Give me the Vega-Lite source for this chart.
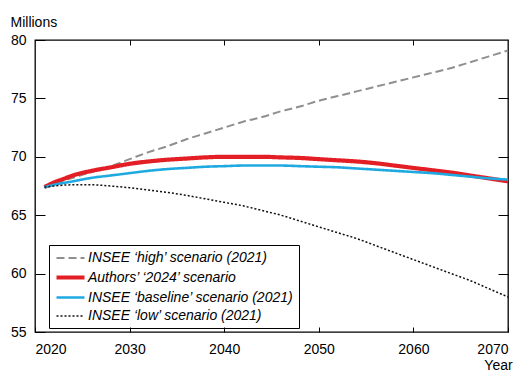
{
  "$schema": "https://vega.github.io/schema/vega-lite/v6.json",
  "width": 473,
  "height": 292,
  "autosize": {"type": "none"},
  "padding": {"left": 35, "top": 40, "right": 14, "bottom": 40},
  "background": "white",
  "config": {
    "view": {"stroke": "#000", "strokeWidth": 1.3},
    "font": "Liberation Sans",
    "axis": {"domain": false, "grid": false, "tickColor": "#000", "labelColor": "#000", "titleColor": "#000", "labelFont": "Liberation Sans", "titleFont": "Liberation Sans", "titleFontWeight": "normal"}
  },
  "data": {
    "values": [
      {"series": "high", "year": 2021, "value": 67.4},
      {"series": "high", "year": 2022, "value": 67.7},
      {"series": "high", "year": 2024, "value": 68.2},
      {"series": "high", "year": 2026, "value": 68.7},
      {"series": "high", "year": 2028, "value": 69.2},
      {"series": "high", "year": 2030, "value": 69.8},
      {"series": "high", "year": 2032, "value": 70.4},
      {"series": "high", "year": 2034, "value": 70.9},
      {"series": "high", "year": 2036, "value": 71.5},
      {"series": "high", "year": 2038, "value": 72.0},
      {"series": "high", "year": 2040, "value": 72.5},
      {"series": "high", "year": 2042, "value": 73.0},
      {"series": "high", "year": 2044, "value": 73.4},
      {"series": "high", "year": 2046, "value": 73.9},
      {"series": "high", "year": 2048, "value": 74.3},
      {"series": "high", "year": 2050, "value": 74.8},
      {"series": "high", "year": 2052, "value": 75.2},
      {"series": "high", "year": 2054, "value": 75.6},
      {"series": "high", "year": 2056, "value": 76.0},
      {"series": "high", "year": 2058, "value": 76.4},
      {"series": "high", "year": 2060, "value": 76.8},
      {"series": "high", "year": 2062, "value": 77.2},
      {"series": "high", "year": 2064, "value": 77.6},
      {"series": "high", "year": 2066, "value": 78.1},
      {"series": "high", "year": 2068, "value": 78.6},
      {"series": "high", "year": 2070, "value": 79.1},
      {"series": "authors", "year": 2021, "value": 67.4},
      {"series": "authors", "year": 2022, "value": 67.8},
      {"series": "authors", "year": 2023, "value": 68.1},
      {"series": "authors", "year": 2024, "value": 68.4},
      {"series": "authors", "year": 2026, "value": 68.8},
      {"series": "authors", "year": 2028, "value": 69.1},
      {"series": "authors", "year": 2030, "value": 69.4},
      {"series": "authors", "year": 2032, "value": 69.6},
      {"series": "authors", "year": 2034, "value": 69.75},
      {"series": "authors", "year": 2036, "value": 69.85},
      {"series": "authors", "year": 2038, "value": 69.95},
      {"series": "authors", "year": 2040, "value": 70.0},
      {"series": "authors", "year": 2042, "value": 70.0},
      {"series": "authors", "year": 2044, "value": 70.0},
      {"series": "authors", "year": 2046, "value": 69.95},
      {"series": "authors", "year": 2048, "value": 69.9},
      {"series": "authors", "year": 2050, "value": 69.8},
      {"series": "authors", "year": 2052, "value": 69.7},
      {"series": "authors", "year": 2054, "value": 69.6},
      {"series": "authors", "year": 2056, "value": 69.45},
      {"series": "authors", "year": 2058, "value": 69.25},
      {"series": "authors", "year": 2060, "value": 69.05},
      {"series": "authors", "year": 2062, "value": 68.85},
      {"series": "authors", "year": 2064, "value": 68.65},
      {"series": "authors", "year": 2066, "value": 68.4},
      {"series": "authors", "year": 2068, "value": 68.15},
      {"series": "authors", "year": 2070, "value": 67.9},
      {"series": "baseline", "year": 2021, "value": 67.4},
      {"series": "baseline", "year": 2022, "value": 67.6},
      {"series": "baseline", "year": 2024, "value": 67.9},
      {"series": "baseline", "year": 2026, "value": 68.2},
      {"series": "baseline", "year": 2028, "value": 68.4},
      {"series": "baseline", "year": 2030, "value": 68.6},
      {"series": "baseline", "year": 2032, "value": 68.8},
      {"series": "baseline", "year": 2034, "value": 68.95},
      {"series": "baseline", "year": 2036, "value": 69.05},
      {"series": "baseline", "year": 2038, "value": 69.15},
      {"series": "baseline", "year": 2040, "value": 69.2},
      {"series": "baseline", "year": 2042, "value": 69.25},
      {"series": "baseline", "year": 2044, "value": 69.25},
      {"series": "baseline", "year": 2046, "value": 69.25},
      {"series": "baseline", "year": 2048, "value": 69.2},
      {"series": "baseline", "year": 2050, "value": 69.15},
      {"series": "baseline", "year": 2052, "value": 69.1},
      {"series": "baseline", "year": 2054, "value": 69.0},
      {"series": "baseline", "year": 2056, "value": 68.9},
      {"series": "baseline", "year": 2058, "value": 68.8},
      {"series": "baseline", "year": 2060, "value": 68.7},
      {"series": "baseline", "year": 2062, "value": 68.6},
      {"series": "baseline", "year": 2064, "value": 68.45},
      {"series": "baseline", "year": 2066, "value": 68.3},
      {"series": "baseline", "year": 2068, "value": 68.15},
      {"series": "baseline", "year": 2070, "value": 68.05},
      {"series": "low", "year": 2021, "value": 67.4},
      {"series": "low", "year": 2022, "value": 67.5},
      {"series": "low", "year": 2024, "value": 67.6},
      {"series": "low", "year": 2026, "value": 67.6},
      {"series": "low", "year": 2028, "value": 67.5},
      {"series": "low", "year": 2030, "value": 67.35},
      {"series": "low", "year": 2032, "value": 67.15},
      {"series": "low", "year": 2034, "value": 66.95},
      {"series": "low", "year": 2036, "value": 66.7},
      {"series": "low", "year": 2038, "value": 66.4},
      {"series": "low", "year": 2040, "value": 66.1},
      {"series": "low", "year": 2042, "value": 65.8},
      {"series": "low", "year": 2044, "value": 65.4},
      {"series": "low", "year": 2046, "value": 65.0},
      {"series": "low", "year": 2048, "value": 64.5},
      {"series": "low", "year": 2050, "value": 64.0},
      {"series": "low", "year": 2052, "value": 63.5},
      {"series": "low", "year": 2054, "value": 63.0},
      {"series": "low", "year": 2056, "value": 62.4},
      {"series": "low", "year": 2058, "value": 61.8},
      {"series": "low", "year": 2060, "value": 61.2},
      {"series": "low", "year": 2062, "value": 60.6},
      {"series": "low", "year": 2064, "value": 60.0},
      {"series": "low", "year": 2066, "value": 59.4},
      {"series": "low", "year": 2068, "value": 58.7},
      {"series": "low", "year": 2070, "value": 58.0}
    ]
  },
  "resolve": {"axis": {"x": "independent", "y": "independent"}},
  "layer": [
    {
      "mark": {"type": "line", "interpolate": "monotone"},
      "encoding": {
        "x": {
          "field": "year", "type": "quantitative",
          "scale": {"domain": [2020, 2070], "nice": false, "zero": false},
          "axis": {"orient": "bottom", "values": [2020, 2030, 2040, 2050, 2060, 2070], "format": "d", "tickSize": -5, "tickWidth": 1, "labelFontSize": 14, "labelPadding": 15, "title": "Year", "titleFontSize": 14, "titleAnchor": "end", "titleAlign": "center", "titleX": 463, "titleY": 37, "titleBaseline": "alphabetic"}
        },
        "y": {
          "field": "value", "type": "quantitative",
          "scale": {"domain": [55, 80], "nice": false, "zero": false},
          "axis": {"orient": "left", "values": [55, 60, 65, 70, 75, 80], "tickSize": -10, "tickWidth": 1, "labelFontSize": 14, "labelPadding": 19, "title": "Millions", "titleFontSize": 14, "titleAngle": 0, "titleAlign": "left", "titleBaseline": "alphabetic", "titleX": -25, "titleY": -14}
        },
        "color": {
          "field": "series", "type": "nominal",
          "scale": {"domain": ["high", "authors", "baseline", "low"], "range": ["#8f8f8f", "#e31e24", "#1fa9e1", "#111111"]},
          "legend": {
            "orient": "none", "legendX": 14, "legendY": 205, "title": null,
            "labelExpr": "datum.value == 'high' ? 'INSEE ‘high’ scenario (2021)' : datum.value == 'authors' ? 'Authors’ ‘2024’ scenario' : datum.value == 'baseline' ? 'INSEE ‘baseline’ scenario (2021)' : 'INSEE ‘low’ scenario (2021)'",
            "symbolType": "M-2,0H2", "symbolSize": 196, "symbolOffset": 7,
            "labelFont": "Liberation Sans", "labelFontStyle": "italic", "labelFontSize": 14, "labelColor": "#000", "labelLimit": 400,
            "strokeColor": "#000", "padding": 5, "rowPadding": 3, "labelOffset": 8
          }
        },
        "strokeDash": {
          "field": "series", "type": "nominal",
          "scale": {"type": "ordinal", "domain": ["high", "authors", "baseline", "low"], "range": [[8, 4], [1, 0], [1, 0], [2, 2]]}
        },
        "strokeWidth": {
          "field": "series", "type": "nominal",
          "scale": {"type": "ordinal", "domain": ["high", "authors", "baseline", "low"], "range": [2, 4.2, 2.6, 1.5]}
        }
      }
    },
    {
      "mark": {"type": "point", "opacity": 0},
      "encoding": {
        "x": {"field": "year", "type": "quantitative", "axis": {"orient": "top", "values": [2030, 2040, 2050, 2060], "tickSize": -5, "labels": false, "title": null}},
        "y": {"field": "value", "type": "quantitative", "axis": {"orient": "right", "values": [60, 65, 70, 75], "tickSize": -10, "labels": false, "title": null}}
      }
    }
  ]
}
